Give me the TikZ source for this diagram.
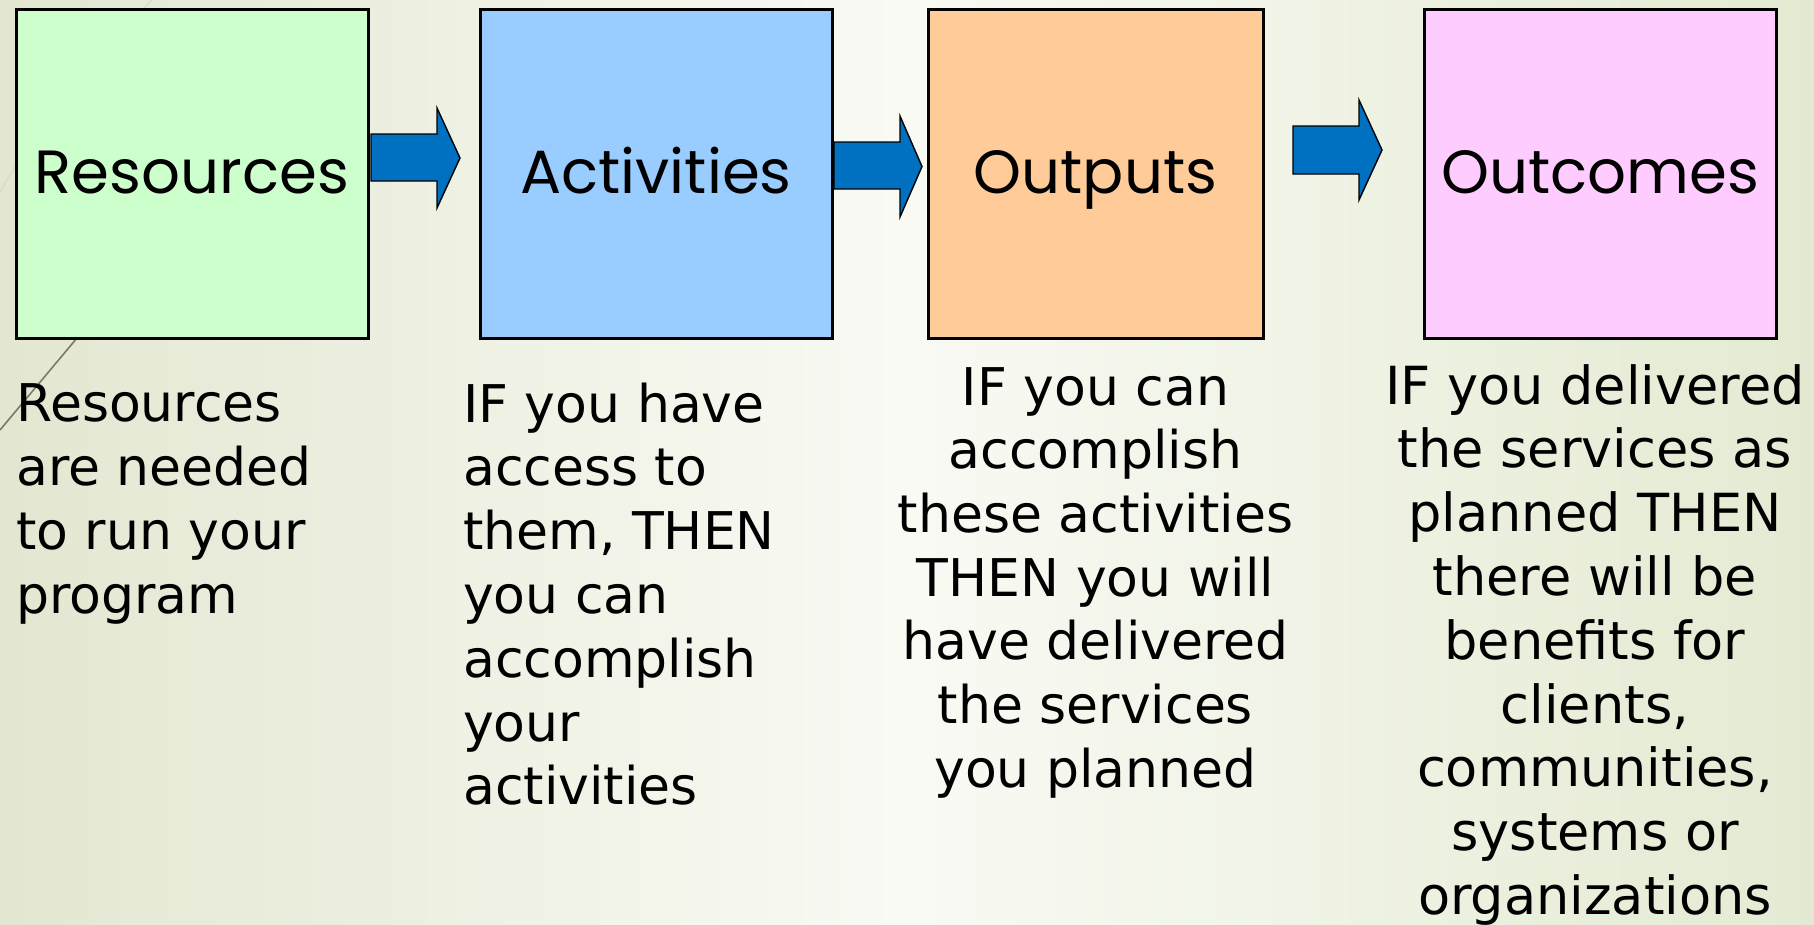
\documentclass[tikz,border=0pt]{standalone}
\usepackage{fontspec}
\newfontfamily\titlefont{Poppins}
\newfontfamily\bodyfont{DejaVu Sans}
\usetikzlibrary{calc}

\definecolor{bgleft}{HTML}{E3E7D1}
\definecolor{bgmid}{HTML}{F9FAF4}
\definecolor{bgright}{HTML}{E4EAD2}
\definecolor{wispdark}{HTML}{7E786A}
\definecolor{wisplight}{HTML}{D9DCCB}
\definecolor{resfill}{HTML}{CCFFCC}
\definecolor{actfill}{HTML}{99CCFF}
\definecolor{outfill}{HTML}{FFCC99}
\definecolor{ocmfill}{HTML}{FFCCFF}
\definecolor{arrowblue}{HTML}{0070C0}

% block arrow: #1 start x, #2 head base x, #3 tip x,
% #4 shaft top, #5 shaft bottom, #6 head top, #7 head bottom
\newcommand{\blockarrow}[7]{%
  \draw[blockarrow] (#1,#4) -- (#2,#4) -- (#2,#6) -- (#3,{(#6+#7)/2})
    -- (#2,#7) -- (#2,#5) -- (#1,#5) -- cycle;}

\begin{document}
\begin{tikzpicture}[x=1pt,y=-1pt,
  stagebox/.style={draw=black, line width=3pt, inner sep=0pt,
    minimum width=352pt, minimum height=329pt, anchor=north west},
  stagetitle/.style={inner sep=0pt, anchor=base,
    font=\titlefont\fontsize{61}{61}\selectfont},
  desc/.style={inner sep=0pt},
  blockarrow/.style={fill=arrowblue, draw=black, line width=1.4pt, line join=miter},
  wisp/.style={draw=wispdark, line width=1.6pt},
  wispfaint/.style={draw=wisplight, line width=1.4pt}]

\useasboundingbox (0,0) rectangle (1814,924);

% background
\shade[left color=bgleft, right color=bgright, middle color=bgmid]
  (0,0) rectangle (1814,924);

% decorative lines at the left edge
\draw[wispfaint] (0,192) .. controls (45,115) .. (152,0);
\draw[wisp] (0,430) -- (200,191);

% stage boxes
\node[stagebox, fill=resfill] (res) at (14.5,7.5) {};
\node[stagebox, fill=actfill] (act) at (478.5,7.5) {};
\node[stagebox, fill=outfill, minimum width=335pt] (out) at (926.5,7.5) {};
\node[stagebox, fill=ocmfill] (ocm) at (1422.5,7.5) {};

% stage titles
\node[stagetitle] (resT) at (res.center |- 0,193) {Resources};
\node[stagetitle] (actT) at (act.center |- 0,193) {Activities};
\node[stagetitle] (outT) at (out.center |- 0,193) {Outputs};
\node[stagetitle] (ocmT) at (ocm.center |- 0,193) {Outcomes};

% arrows between the stages
\blockarrow{371}{437}{460}{134}{181}{108}{208}
\blockarrow{834}{900}{922}{142}{189}{116}{217}
\blockarrow{1293}{1359}{1382}{126}{174}{100}{200}

% descriptions
\node[desc, anchor=base west] (resD) at (16,421)
  {\parbox[t]{400pt}{\raggedright\bodyfont\fontsize{52}{64}\selectfont
   Resources\\are needed\\to run your\\program}};
\node[desc, anchor=base west] (actD) at (463,422)
  {\parbox[t]{420pt}{\raggedright\bodyfont\fontsize{52}{63.8}\selectfont
   IF you have\\access to\\them, THEN\\you can\\accomplish\\your\\activities}};
\node[desc, anchor=base] (outD) at (out.center |- 0,405)
  {\parbox[t]{460pt}{\centering\bodyfont\fontsize{52}{63.7}\selectfont
   IF you can\\accomplish\\these activities\\THEN you will\\have delivered\\the services\\you planned}};
\node[desc, anchor=base] (ocmD) at (1595,404)
  {\parbox[t]{440pt}{\centering\bodyfont\fontsize{52.5}{63.8}\selectfont
   IF you delivered\\the services as\\planned THEN\\there will be\\benefits for\\clients,\\communities,\\systems or\\organizations}};

\end{tikzpicture}
\end{document}
